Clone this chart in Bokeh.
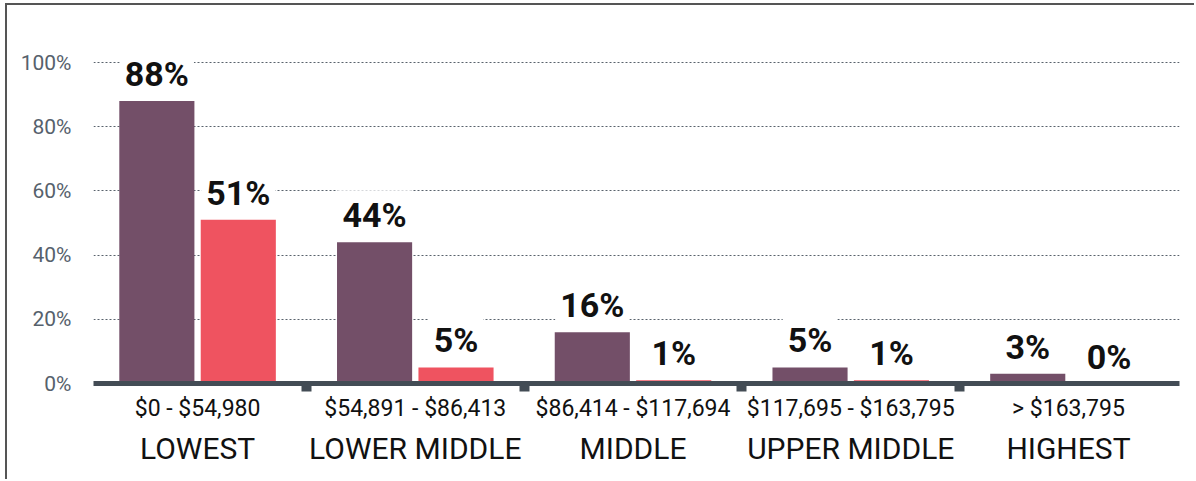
import numpy as np
from bokeh.plotting import figure
from bokeh.models import Range1d, FixedTicker, ColumnDataSource, LinearAxis
from bokeh.embed import file_html
from bokeh.resources import INLINE
from bokeh.core.properties import value

# ---- data ----
income_ranges = ["$0 - $54,980", "$54,891 - $86,413", "$86,414 - $117,694",
                 "$117,695 - $163,795", "> $163,795"]
income_tiers = ["LOWEST", "LOWER MIDDLE", "MIDDLE", "UPPER MIDDLE", "HIGHEST"]
purple_share = [88, 44, 16, 5, 3]
red_share = [51, 5, 1, 1, 0]
y_tick_values = [0, 20, 40, 60, 80, 100]
y_tick_labels = ["0%", "20%", "40%", "60%", "80%", "100%"]

# ---- style ----
PURPLE = "#734f68"
RED = "#ef5360"
AXIS = "#434c55"
FONT = "Roboto"

n = len(income_tiers)
idx = np.arange(n)
dodge = 0.187
bar_w = 0.345

p = figure(width=1189, height=476, output_backend="svg", toolbar_location=None,
           x_range=Range1d(-0.478, 4.51), y_range=Range1d(0, 110),
           min_border_left=86, min_border_right=17, min_border_top=25,
           min_border_bottom=98)
p.styles = {"margin-left": "5px", "margin-top": "3px",
            "border-left": "2px solid #555555", "border-top": "2px solid #555555"}
p.outline_line_color = None
p.background_fill_color = "white"

src_a = ColumnDataSource(dict(x=idx - dodge, top=purple_share,
                              lab=[f"{v}%" for v in purple_share]))
src_b = ColumnDataSource(dict(x=idx + dodge, top=red_share,
                              lab=[f"{v}%" for v in red_share]))

p.vbar(x="x", top="top", bottom=0, width=bar_w, source=src_a,
       fill_color=PURPLE, line_color=None)
p.vbar(x="x", top="top", bottom=0, width=bar_w, source=src_b,
       fill_color=RED, line_color=None)

for src in (src_a, src_b):
    p.text(x="x", y="top", text="lab", source=src, text_align="center",
           text_baseline="bottom", y_offset=-2,
           text_font=value(FONT), text_font_size="34px", text_font_style="bold",
           text_color="#111111", background_fill_color="white", padding=5)

# x axis (income ranges, with notches between groups)
xa = p.xaxis[0]
xa.ticker = FixedTicker(ticks=list(idx), minor_ticks=list(idx[:-1] + 0.5))
xa.major_label_overrides = {int(i): income_ranges[i] for i in idx}
xa.axis_line_color = AXIS
xa.axis_line_width = 5
xa.major_tick_line_color = None
xa.major_tick_out = 0
xa.major_tick_in = 0
xa.minor_tick_line_color = AXIS
xa.minor_tick_line_width = 10
xa.minor_tick_out = 8
xa.minor_tick_in = 0
xa.major_label_standoff = 3
xa.major_label_text_font = FONT
xa.major_label_text_font_size = "23px"
xa.major_label_text_color = "#111111"

# second row of category labels (tier names)
xb = LinearAxis(ticker=FixedTicker(ticks=list(idx)))
xb.major_label_overrides = {int(i): income_tiers[i] for i in idx}
xb.axis_line_color = None
xb.major_tick_line_color = None
xb.minor_tick_line_color = None
xb.major_tick_out = 0
xb.major_tick_in = 0
xb.major_label_standoff = 6
xb.major_label_text_font = FONT
xb.major_label_text_font_size = "30px"
xb.major_label_text_color = "#111111"
p.add_layout(xb, "below")

# y axis
ya = p.yaxis[0]
ya.ticker = FixedTicker(ticks=y_tick_values)
ya.major_label_overrides = {v: l for v, l in zip(y_tick_values, y_tick_labels)}
ya.axis_line_color = None
ya.major_tick_line_color = None
ya.minor_tick_line_color = None
ya.major_tick_out = 0
ya.major_tick_in = 0
ya.major_label_standoff = 22
ya.major_label_text_font = FONT
ya.major_label_text_font_size = "21px"
ya.major_label_text_color = "#56616c"

p.xgrid.grid_line_color = None
p.ygrid.grid_line_color = "#59626c"
p.ygrid.grid_line_dash = "2 2"
p.ygrid.grid_line_width = 1

open("out.html", "w").write(file_html(p, INLINE))
